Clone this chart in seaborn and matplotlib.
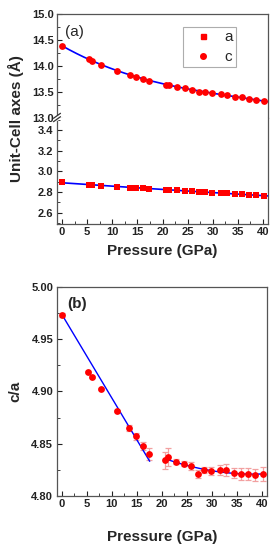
import numpy as np
import pandas as pd
import matplotlib
matplotlib.use("Agg")
import matplotlib.pyplot as plt
from matplotlib.lines import Line2D
from matplotlib.ticker import MultipleLocator, FormatStrFormatter
import seaborn as sns

# ---------------- data ----------------
pressure = [0, 5.3, 6.0, 7.8, 11.0, 13.5, 14.8, 16.2, 17.4, 20.6, 21.3, 22.9,
            24.4, 25.8, 27.3, 28.5, 29.9, 31.6, 32.9, 34.4, 35.8, 37.2, 38.7, 40.3]
c_axis = [14.38, 14.13, 14.10, 14.02, 13.905, 13.83, 13.79, 13.75, 13.70, 13.63,
          13.63, 13.59, 13.57, 13.54, 13.50, 13.49, 13.47, 13.45, 13.44, 13.40,
          13.39, 13.36, 13.34, 13.31]
a_axis = [2.894, 2.871, 2.868, 2.861, 2.848, 2.842, 2.839, 2.836, 2.832, 2.822,
          2.822, 2.815, 2.813, 2.810, 2.803, 2.800, 2.793, 2.790, 2.787, 2.781,
          2.777, 2.771, 2.767, 2.761]
c_over_a = [4.973, 4.919, 4.914, 4.902, 4.881, 4.865, 4.857, 4.848, 4.840, 4.834,
            4.837, 4.833, 4.831, 4.829, 4.821, 4.825, 4.824, 4.825, 4.825, 4.822,
            4.821, 4.821, 4.820, 4.821]
c_over_a_err = [0.002, 0.001, 0.001, 0.001, 0.001, 0.003, 0.003, 0.004, 0.0055,
                0.008, 0.0086, 0.0025, 0.0025, 0.004, 0.004, 0.003, 0.004, 0.005,
                0.006, 0.005, 0.0057, 0.0057, 0.0054, 0.0064]
n_low = 9  # points in the low-pressure linear regime of c/a

# linear fit of the low-pressure c/a regime as drawn in the figure
low_fit_slope = -0.0080
low_fit_intercept = 4.974
low_fit_end = 17.6

x_ticks = [0, 5, 10, 15, 20, 25, 30, 35, 40]
series_labels = ["a", "c"]

df = pd.DataFrame({"P": pressure, "a": a_axis, "c": c_axis,
                   "ca": c_over_a, "err": c_over_a_err})

# ---------------- style ----------------
sns.set_style("ticks")
plt.rcParams["font.family"] = ["Liberation Sans", "DejaVu Sans"]
plt.rcParams["font.weight"] = "bold"
plt.rcParams["xtick.direction"] = "in"
plt.rcParams["ytick.direction"] = "in"

RED = "#ff0000"
BLUE = "#0000ff"
ERR = "#f2a0a0"
SPINE = "#555555"

fig = plt.figure(figsize=(2.75, 5.5), dpi=100)
W, H = 275.0, 550.0


def add_ax(x0, x1, y0, y1):
    return fig.add_axes([x0 / W, 1 - y1 / H, (x1 - x0) / W, (y1 - y0) / H])


ax_up = add_ax(57, 268, 14, 117.5)
ax_lo = add_ax(57, 268, 117.5, 224)
ax_b = add_ax(56.7, 266.7, 287, 496)

xlim = (-1, 41)

# ---------------- fits ----------------
P = np.asarray(pressure)
p_fit = np.linspace(P[0], xlim[1], 200)
c_fit = np.polyval(np.polyfit(P, c_axis, 3), p_fit)
a_fit = np.polyval(np.polyfit(P, a_axis, 2), p_fit)
fit_top = pd.DataFrame({"P": p_fit, "c": c_fit, "a": a_fit})

p1 = np.linspace(P[0], low_fit_end, 50)
l1 = low_fit_intercept + low_fit_slope * p1
p2 = np.linspace(P[n_low], P[-1], 80)
l2 = np.polyval(np.polyfit(P[n_low:], c_over_a[n_low:], 2), p2)
fit1 = pd.DataFrame({"P": p1, "ca": l1})
fit2 = pd.DataFrame({"P": p2, "ca": l2})

# ---------------- panel (a) ----------------
sns.lineplot(data=fit_top, x="P", y="c", ax=ax_up, color=BLUE, lw=1.2, zorder=2)
sns.scatterplot(data=df, x="P", y="c", ax=ax_up, color=RED, marker="o", s=24,
                edgecolor=RED, linewidth=0, zorder=3)
sns.lineplot(data=fit_top, x="P", y="a", ax=ax_lo, color=BLUE, lw=1.2, zorder=2)
sns.scatterplot(data=df, x="P", y="a", ax=ax_lo, color=RED, marker="s", s=20,
                edgecolor=RED, linewidth=0, zorder=3)

ax_up.set_ylim(13.0, 15.0)
ax_lo.set_ylim(2.49, 3.52)
for ax in (ax_up, ax_lo):
    ax.set_xlim(*xlim)
    ax.set_xlabel("")
    ax.set_ylabel("")
    ax.xaxis.set_minor_locator(MultipleLocator(2.5))
    ax.set_xticks(x_ticks)
    ax.tick_params(which="major", length=3.5, width=0.8, labelsize=8, pad=2.5,
                   top=False, right=False, colors="#222222")
    ax.tick_params(which="minor", length=2, width=0.6, top=False, right=False,
                   colors="#222222")
    for sp in ax.spines.values():
        sp.set_visible(True)
        sp.set_color(SPINE)
        sp.set_linewidth(0.9)

ax_up.yaxis.set_major_locator(MultipleLocator(0.5))
ax_up.yaxis.set_minor_locator(MultipleLocator(0.25))
ax_up.yaxis.set_major_formatter(FormatStrFormatter("%.1f"))
ax_up.spines["bottom"].set_visible(False)
ax_up.tick_params(axis="x", which="both", bottom=False, labelbottom=False)

ax_lo.set_yticks([2.6, 2.8, 3.0, 3.2, 3.4])
ax_lo.yaxis.set_minor_locator(MultipleLocator(0.1))
ax_lo.yaxis.set_major_formatter(FormatStrFormatter("%.1f"))
ax_lo.spines["top"].set_visible(False)
ax_lo.set_xlabel("Pressure (GPa)", fontsize=11, fontweight="bold", labelpad=5)

# legend (a: squares, c: circles)
leg_handles = [Line2D([], [], ls="none", marker="s", color=RED, ms=3.6),
               Line2D([], [], ls="none", marker="o", color=RED, ms=4.0)]
leg = ax_up.legend(leg_handles, series_labels, loc="upper left",
                   bbox_to_anchor=(0.596, 0.871), frameon=True, fancybox=False,
                   prop={"size": 11, "weight": "normal"}, handletextpad=0.3,
                   labelspacing=0.38, borderpad=0.19, handlelength=2.26,
                   borderaxespad=0)
leg.get_frame().set_edgecolor("#999999")
leg.get_frame().set_linewidth(0.8)

ax_up.text(0.04, 0.83, "(a)", transform=ax_up.transAxes, fontsize=11,
           fontweight="normal", ha="left", va="center")

fig.text(15.5 / W, 1 - 119 / H, "Unit-Cell axes (\u00c5)", rotation=90,
         fontsize=11, fontweight="bold", ha="center", va="center")

# axis-break marks on the left spine
fig.add_artist(Line2D([57 / W, 57 / W], [1 - 115.8 / H, 1 - 119.2 / H],
                      color="white", lw=2.0))
for dy in (-1.7, 1.7):
    y = 117.5 + dy
    fig.add_artist(Line2D([53.5 / W, 60.5 / W], [1 - (y + 2.5) / H, 1 - (y - 2.5) / H],
                          color="#333333", lw=0.9))

# ---------------- panel (b) ----------------
ax_b.errorbar(df["P"], df["ca"], yerr=df["err"], fmt="none", ecolor=ERR,
              elinewidth=0.9, capsize=2.2, capthick=0.9, zorder=1)
sns.lineplot(data=fit1, x="P", y="ca", ax=ax_b, color=BLUE, lw=1.0, zorder=2)
sns.lineplot(data=fit2, x="P", y="ca", ax=ax_b, color=BLUE, lw=1.0, zorder=2)
sns.scatterplot(data=df, x="P", y="ca", ax=ax_b, color=RED, marker="o", s=24,
                linewidth=0, zorder=3)
ax_b.set_xlim(*xlim)
ax_b.set_ylim(4.80, 5.00)
ax_b.set_xticks(x_ticks)
ax_b.xaxis.set_minor_locator(MultipleLocator(2.5))
ax_b.yaxis.set_major_locator(MultipleLocator(0.05))
ax_b.yaxis.set_minor_locator(MultipleLocator(0.025))
ax_b.yaxis.set_major_formatter(FormatStrFormatter("%.2f"))
ax_b.tick_params(which="major", length=3.5, width=0.8, labelsize=8, pad=2.5,
                 top=False, right=False, colors="#222222")
ax_b.tick_params(which="minor", length=2, width=0.6, top=False, right=False,
                 colors="#222222")
for sp in ax_b.spines.values():
    sp.set_visible(True)
    sp.set_color(SPINE)
    sp.set_linewidth(0.9)
ax_b.set_xlabel("Pressure (GPa)", fontsize=11, fontweight="bold", labelpad=15)
ax_b.set_ylabel("")
fig.text(15.5 / W, 1 - 391 / H, "c/a", rotation=90, fontsize=11,
         fontweight="bold", ha="center", va="center")
ax_b.text(0.048, 0.92, "(b)", transform=ax_b.transAxes, fontsize=11,
          fontweight="bold", ha="left", va="center")

fig.savefig("out.png", dpi=100)
